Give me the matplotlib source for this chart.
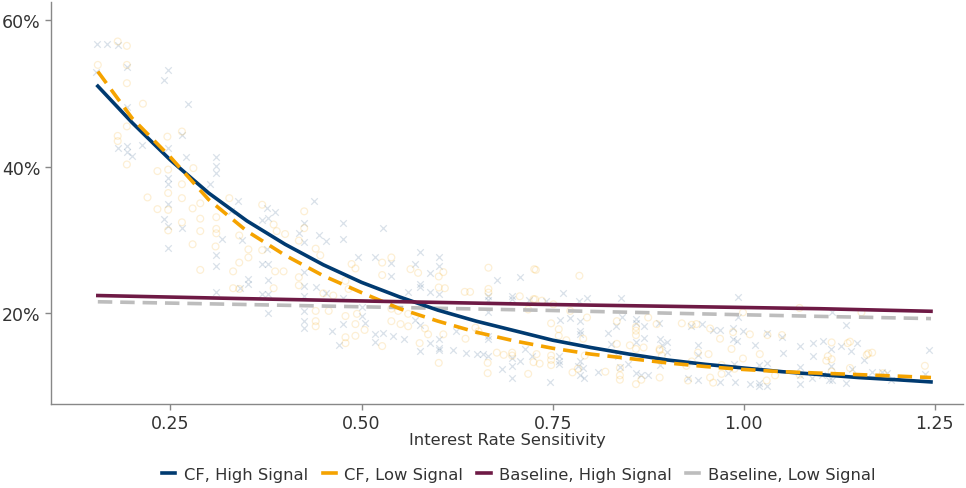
import matplotlib
matplotlib.use("Agg")
import matplotlib.pyplot as plt
from matplotlib.ticker import FuncFormatter
from matplotlib.lines import Line2D

# fitted curves (x, share in %)
curve_x = [0.155, 0.20, 0.25, 0.30, 0.35, 0.40, 0.45, 0.50, 0.55, 0.60, 0.65, 0.70,
           0.75, 0.80, 0.85, 0.90, 0.95, 1.00, 1.05, 1.10, 1.15, 1.20, 1.245]
cf_high = [51.0, 46.0, 40.9, 36.4, 32.6, 29.4, 26.6, 24.2, 22.2, 20.4, 18.9, 17.6,
           16.3, 15.3, 14.4, 13.6, 13.0, 12.5, 12.0, 11.6, 11.2, 10.9, 10.6]
cf_low = [53.0, 46.6, 41.3, 35.5, 31.2, 27.9, 25.1, 22.8, 20.6, 18.9, 17.4, 16.2,
          15.2, 14.4, 13.8, 13.2, 12.7, 12.3, 12.0, 11.8, 11.6, 11.4, 11.2]
base_x = [0.155, 0.335, 0.53, 0.73, 0.92, 1.10, 1.245]
base_high = [22.4, 22.0, 21.6, 21.2, 20.9, 20.6, 20.25]
base_low = [21.55, 21.2, 20.8, 20.4, 19.95, 19.55, 19.25]

# scattered observations, high signal (crosses)
hi_x = [0.154, 0.167, 0.181, 0.193, 0.152, 0.247, 0.242, 0.193, 0.273, 0.181, 0.193, 0.193,
        0.200, 0.213, 0.247, 0.265, 0.271, 0.247, 0.247, 0.302, 0.310, 0.310, 0.310, 0.247,
        0.247, 0.242, 0.265, 0.317, 0.310, 0.310, 0.247, 0.310, 0.329,
        0.339, 0.376, 0.387, 0.438, 0.370, 0.377, 0.425, 0.343, 0.418, 0.425, 0.445, 0.453,
        0.476, 0.476, 0.528, 0.376, 0.370, 0.377, 0.425, 0.495, 0.518, 0.352, 0.352, 0.341,
        0.377, 0.377, 0.370, 0.425, 0.425, 0.425, 0.440, 0.453, 0.476, 0.500, 0.500, 0.504,
        0.377, 0.425, 0.425, 0.476, 0.462, 0.471, 0.517, 0.517, 0.528,
        0.576, 0.601, 0.601, 0.589, 0.570, 0.539, 0.539, 0.576, 0.576, 0.561, 0.589, 0.601,
        0.707, 0.677, 0.665, 0.665, 0.697, 0.697, 0.719, 0.665, 0.570, 0.576, 0.541, 0.555,
        0.589, 0.601, 0.601, 0.601, 0.576, 0.620, 0.637, 0.651, 0.659, 0.665, 0.665, 0.665,
        0.697, 0.697, 0.684, 0.697, 0.707, 0.714, 0.723, 0.623,
        0.763, 0.785, 0.795, 0.839, 0.741, 0.759, 0.773, 0.786, 0.786, 0.786, 0.833, 0.822,
        0.841, 0.859, 0.859, 0.869, 0.889, 0.859, 0.869, 0.890, 0.900, 0.758, 0.758, 0.758,
        0.786, 0.783, 0.786, 0.790, 0.791, 0.810, 0.827, 0.836, 0.849, 0.859, 0.866, 0.875,
        0.893, 0.890, 0.900, 0.747, 0.838,
        0.992, 0.992, 0.931, 0.945, 0.960, 0.969, 0.986, 0.999, 1.030, 1.050, 0.940, 0.940,
        0.986, 0.991, 1.015, 1.052, 1.073, 1.091, 1.091, 1.104, 0.987, 1.020, 1.030, 1.073,
        0.927, 0.940, 0.969, 0.988, 1.008, 1.020, 1.020, 1.030, 1.073, 1.073, 1.089, 1.102,
        0.980,
        1.115, 1.134, 1.127, 1.114, 1.148, 1.140, 1.157, 1.114, 1.142, 1.168, 1.181, 1.187,
        1.243, 1.111, 1.134, 1.115, 1.237, 1.193]
hi_y = [56.8, 56.7, 56.6, 53.6, 52.9, 53.2, 51.8, 48.2, 48.5, 42.5, 42.8, 42.0,
        41.5, 42.9, 42.5, 44.3, 41.3, 38.4, 37.6, 37.7, 41.3, 40.1, 39.2, 34.9,
        31.9, 32.8, 31.6, 30.1, 28.0, 26.5, 28.9, 22.9, 34.0,
        35.3, 34.3, 33.8, 35.3, 32.7, 33.0, 32.3, 30.0, 31.0, 29.7, 30.6, 29.8,
        30.1, 32.3, 31.6, 28.7, 26.7, 26.7, 25.6, 27.7, 27.6, 24.6, 24.0, 23.4,
        24.5, 22.6, 22.6, 23.7, 22.4, 20.3, 23.5, 22.7, 22.1, 20.8, 19.6, 18.7,
        20.0, 18.9, 17.9, 18.5, 17.5, 15.7, 17.1, 16.1, 17.3,
        28.4, 27.7, 26.5, 25.5, 26.7, 26.8, 25.1, 24.0, 23.6, 22.9, 22.9, 22.6,
        24.9, 24.5, 22.3, 21.8, 22.3, 21.9, 21.8, 20.2, 19.1, 18.4, 16.9, 16.5,
        15.9, 16.5, 15.3, 14.9, 14.8, 14.9, 14.6, 14.4, 14.4, 16.9, 16.5, 14.2,
        13.8, 12.8, 12.4, 11.2, 13.5, 15.1, 14.2, 17.5,
        22.7, 21.7, 22.1, 22.1, 21.7, 19.1, 19.3, 18.9, 17.6, 17.1, 18.3, 17.3,
        19.5, 19.2, 18.6, 18.3, 18.6, 16.0, 16.6, 16.5, 16.0, 14.2, 13.5, 13.0,
        13.5, 12.8, 11.5, 12.5, 11.1, 12.0, 15.8, 14.2, 13.0, 11.8, 11.5, 11.5,
        15.6, 12.9, 14.7, 10.6, 12.7,
        22.2, 19.4, 18.3, 18.5, 17.7, 17.7, 17.9, 17.6, 17.3, 16.8, 15.6, 14.3,
        16.5, 16.2, 15.7, 14.5, 15.5, 15.9, 14.1, 16.2, 13.0, 12.9, 13.2, 12.6,
        11.1, 10.9, 10.6, 10.6, 10.3, 10.5, 10.1, 10.1, 11.5, 10.3, 11.2, 11.5,
        11.8,
        20.2, 18.4, 15.5, 15.1, 15.9, 14.8, 13.6, 12.8, 12.3, 12.0, 12.0, 11.8,
        15.0, 10.8, 10.5, 10.8, 11.7, 10.8]

# scattered observations, low signal (circles)
lo_x = [0.181, 0.193, 0.155, 0.193, 0.193, 0.214, 0.193, 0.181, 0.181, 0.193, 0.246, 0.265,
        0.233, 0.247, 0.265, 0.280, 0.247, 0.247, 0.220, 0.233, 0.265, 0.289, 0.279, 0.289,
        0.265, 0.247, 0.289, 0.310, 0.310, 0.310, 0.279, 0.309, 0.327, 0.289, 0.332, 0.332,
        0.370, 0.425, 0.385, 0.389, 0.425, 0.400, 0.418, 0.340, 0.352, 0.370, 0.352, 0.340,
        0.440, 0.446, 0.398, 0.387, 0.418, 0.418, 0.385, 0.340, 0.487, 0.492, 0.527, 0.527,
        0.479, 0.450, 0.463, 0.483, 0.440, 0.457, 0.479, 0.494, 0.440, 0.440, 0.492, 0.504,
        0.479, 0.492, 0.479, 0.527,
        0.564, 0.574, 0.539, 0.601, 0.607, 0.601, 0.609, 0.666, 0.726, 0.635, 0.642, 0.666,
        0.666, 0.707, 0.725, 0.718, 0.539, 0.548, 0.561, 0.539, 0.561, 0.551, 0.583, 0.587,
        0.576, 0.607, 0.649, 0.653, 0.601, 0.677, 0.686, 0.697, 0.697, 0.665, 0.665, 0.718,
        0.725, 0.636,
        0.728, 0.785, 0.727, 0.736, 0.751, 0.773, 0.795, 0.834, 0.875, 0.886, 0.919, 0.748,
        0.758, 0.758, 0.768, 0.790, 0.859, 0.859, 0.859, 0.859, 0.869, 0.834, 0.851, 0.890,
        0.890, 0.893, 0.729, 0.733, 0.748, 0.748, 0.748, 0.776, 0.783, 0.819, 0.838, 0.838,
        0.838, 0.859, 0.866, 0.890, 0.792,
        0.999, 1.073, 0.932, 0.938, 0.956, 0.969, 0.986, 1.008, 1.031, 1.050, 0.954, 0.940,
        0.984, 0.999, 1.021, 0.932, 0.925, 0.971, 0.988, 1.041, 0.956, 0.971, 0.960, 1.030,
        1.073, 0.927,
        1.154, 1.115, 1.136, 1.139, 1.110, 1.115, 1.108, 1.163, 1.168, 1.161, 1.115, 1.139,
        1.237, 1.182]
lo_y = [57.1, 56.5, 53.9, 53.9, 51.4, 48.6, 45.5, 44.2, 43.5, 40.3, 44.1, 44.8,
        39.4, 39.6, 37.6, 39.8, 36.4, 34.1, 35.8, 34.2, 35.7, 35.0, 34.3, 32.9,
        32.4, 31.3, 31.2, 33.1, 31.5, 30.9, 29.4, 29.1, 35.7, 25.9, 25.7, 23.4,
        34.8, 33.9, 32.1, 31.2, 31.6, 30.8, 29.9, 30.6, 28.7, 28.6, 27.6, 26.9,
        28.8, 27.9, 25.7, 25.7, 24.9, 23.8, 23.4, 23.3, 26.7, 26.1, 26.9, 25.2,
        24.4, 22.7, 22.4, 23.3, 20.3, 20.3, 19.6, 19.9, 18.9, 18.2, 18.5, 17.7,
        16.7, 16.9, 15.9, 15.5,
        26.0, 25.5, 27.6, 25.0, 25.6, 23.5, 23.4, 26.2, 26.0, 22.9, 22.9, 23.3,
        22.8, 22.3, 21.9, 20.5, 20.6, 20.3, 19.9, 18.9, 18.2, 18.5, 17.9, 17.1,
        15.9, 17.1, 18.0, 17.5, 13.2, 14.6, 14.3, 14.6, 14.2, 13.2, 11.8, 11.7,
        13.3, 16.5,
        25.9, 25.1, 21.9, 21.7, 21.2, 20.3, 19.4, 18.9, 19.4, 18.5, 18.6, 18.6,
        17.8, 16.9, 16.3, 16.5, 18.1, 17.6, 17.0, 15.1, 15.3, 15.8, 15.6, 15.1,
        14.9, 14.2, 14.4, 13.1, 14.2, 13.6, 12.9, 11.9, 12.4, 12.0, 12.5, 11.5,
        10.9, 10.3, 10.9, 11.2, 14.2,
        20.1, 20.7, 18.4, 18.5, 17.9, 16.5, 17.4, 17.1, 17.0, 17.0, 14.4, 14.6,
        15.1, 13.8, 14.4, 13.4, 12.8, 12.9, 12.4, 11.5, 11.2, 11.7, 10.5, 10.8,
        11.6, 10.8,
        20.1, 16.0, 15.9, 16.1, 14.1, 13.7, 13.5, 14.5, 14.6, 14.3, 12.0, 12.5,
        12.8, 11.8]

NAVY = "#003A70"
ORANGE = "#F5A300"
MAROON = "#6E1A45"
GREY = "#BDBDBD"

fig = plt.figure(figsize=(9.66, 4.89), dpi=100)
ax = fig.add_axes([0.053, 0.172, 0.944, 0.822])

ax.scatter(hi_x, hi_y, marker="x", s=22, linewidths=0.9, color=NAVY, alpha=0.15, zorder=1)
ax.scatter(lo_x, lo_y, marker="o", s=24, linewidths=0.9, facecolors="none",
           edgecolors=ORANGE, alpha=0.17, zorder=1)

ax.plot(curve_x, cf_high, color=NAVY, lw=2.6, label="CF, High Signal", zorder=3)
ax.plot(curve_x, cf_low, color=ORANGE, lw=2.6, ls=(0, (4, 2.2)), label="CF, Low Signal", zorder=3)
ax.plot(base_x, base_high, color=MAROON, lw=2.6, label="Baseline, High Signal", zorder=3)
ax.plot(base_x, base_low, color=GREY, lw=2.6, ls=(0, (4, 2.2)), label="Baseline, Low Signal", zorder=2)

ax.set_xlim(0.094, 1.287)
ax.set_ylim(7.6, 62.5)
ax.set_xticks([0.25, 0.50, 0.75, 1.00, 1.25])
ax.set_xticklabels(["0.25", "0.50", "0.75", "1.00", "1.25"])
ax.set_yticks([20, 40, 60])
ax.yaxis.set_major_formatter(FuncFormatter(lambda v, p: "%d%%" % v))

for s in ["top", "right"]:
    ax.spines[s].set_visible(False)
for s in ["left", "bottom"]:
    ax.spines[s].set_color("#888888")
    ax.spines[s].set_linewidth(1.0)
ax.tick_params(axis="both", colors="#888888", labelcolor="#333333", labelsize=12.5,
               length=4, width=1.0)

ax.set_xlabel("Interest Rate Sensitivity", fontsize=11.8, color="#333333", labelpad=0)

handles, labels = ax.get_legend_handles_labels()
leg_handles = [Line2D([], [], color=h.get_color(), lw=2.6) for h in handles]
fig.legend(leg_handles, labels, loc="center", bbox_to_anchor=(0.537, 0.028), ncol=4,
           frameon=False, fontsize=11.8, handlelength=0.8, handletextpad=0.5,
           columnspacing=0.9, labelcolor="#333333")

fig.savefig("out.png", dpi=100)
